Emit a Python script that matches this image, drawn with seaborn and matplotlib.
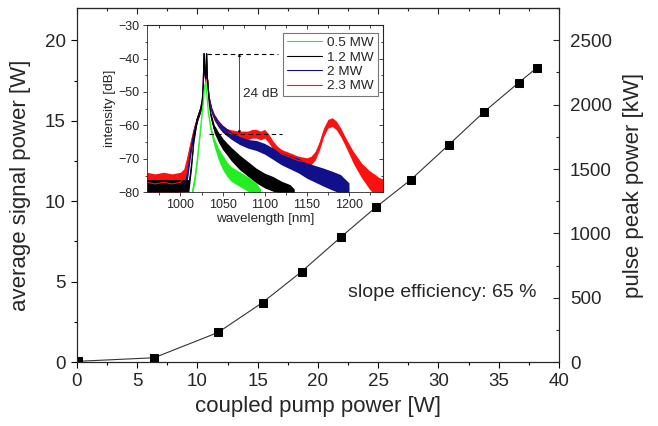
import matplotlib

matplotlib.use("Agg")
import matplotlib.pyplot as plt
import numpy as np
import seaborn as sns
from matplotlib.ticker import MultipleLocator, NullFormatter

# main curve: coupled pump power [W] vs average signal power [W]
pump_w = [0.1, 6.4, 11.7, 15.4, 18.65, 21.95, 24.8, 27.7, 30.85, 33.8, 36.65, 38.15]
signal_w = [0.05, 0.27, 1.84, 3.7, 5.63, 7.8, 9.62, 11.33, 13.5, 15.56, 17.36, 18.28]
kw_per_w = 125  # right axis scale (pulse peak power)

# inset spectra: wavelength [nm], intensity [dB], half width of the noise band [dB]
red_wl = [960, 970, 980, 990, 1000, 1004, 1008, 1012, 1016, 1020, 1024, 1026, 1027, 1028,
          1029, 1030, 1031, 1032, 1034, 1037, 1040, 1045, 1050, 1055, 1060, 1070, 1080,
          1085, 1090, 1095, 1100, 1105, 1110, 1115, 1120, 1130, 1140, 1150, 1155, 1160,
          1165, 1170, 1175, 1180, 1185, 1190, 1195, 1200, 1205, 1210, 1215, 1220, 1225,
          1230, 1235, 1240]
red_db = [-77, -77.5, -77, -77.5, -77, -75.5, -71, -66, -61.5, -58, -55, -52, -48, -38.5,
          -45, -47, -38.5, -46, -52, -55.5, -57.5, -59.5, -61, -62, -62.5, -63, -63,
          -62.5, -62.5, -63, -62.5, -64, -66, -67.5, -68.5, -69.5, -70.5, -71, -70.5, -69,
          -66, -62, -59.5, -59, -60, -62, -64.5, -67, -69.5, -71.5, -73.5, -75, -76.5,
          -77.5, -78.5, -79]
red_sp = [3, 3, 3, 3, 3, 2.5, 2, 1.5, 1.2, 1, 1, 0.8, 0.5, 0.3,
          0.5, 0.5, 0.3, 0.5, 0.8, 1, 1, 1, 1.1, 1.1, 1.2, 1.3, 1.3,
          1.3, 1.3, 1.3, 1.3, 1.3, 1.3, 1.3, 1.3, 1.3, 1.3, 1.3, 1.3, 1.3,
          1.3, 1.3, 1.3, 1.3, 1.3, 1.3, 1.3, 1.5, 1.8, 2, 2.2, 2.5, 2.8,
          3, 3, 3]

blue_wl = [960, 970, 980, 990, 1000, 1005, 1008, 1012, 1016, 1020, 1024, 1026, 1027, 1028,
           1029, 1030, 1031, 1032, 1034, 1037, 1040, 1045, 1050, 1060, 1070, 1080, 1090,
           1100, 1110, 1120, 1130, 1140, 1150, 1160, 1170, 1180, 1190, 1200]
blue_db = [-78, -78, -78, -78, -78, -78, -75, -68, -62, -58, -55, -52, -48, -38.5,
           -45, -46, -38.5, -46, -52, -55.5, -57.5, -59.5, -61, -63, -64.5, -65.5, -66,
           -67, -68.5, -70, -71, -72, -73.5, -74.5, -75.5, -76.5, -77.5, -79]
blue_sp = [1.8, 1.8, 1.8, 1.8, 1.8, 1.8, 1.8, 1.3, 1, 0.8, 0.8, 0.7, 0.5, 0.3,
           0.5, 0.5, 0.3, 0.5, 0.7, 0.8, 0.8, 0.9, 1, 1.1, 1.2, 1.3, 1.5,
           1.6, 1.7, 1.8, 2, 2.2, 2.3, 2.5, 2.7, 2.8, 2.8, 1.8]

black_wl = [960, 970, 980, 990, 1000, 1005, 1010, 1013, 1016, 1020, 1024, 1026, 1027, 1028,
            1029, 1030, 1031, 1032, 1034, 1036, 1040, 1045, 1050, 1055, 1060, 1070, 1080,
            1090, 1100, 1110, 1120, 1130, 1135]
black_db = [-78, -78, -78, -78, -78, -78, -78, -72, -64, -58, -55, -53, -48, -38.5,
            -44, -46, -38.5, -46, -53, -57, -61, -63.5, -65.5, -67, -68.5, -71, -73,
            -75, -76.5, -77.5, -78.5, -79, -80]
black_sp = [1.8, 1.8, 1.8, 1.8, 1.8, 1.8, 1.8, 1.3, 1, 0.8, 0.8, 0.7, 0.5, 0.3,
            0.5, 0.5, 0.3, 0.5, 0.8, 1, 1.2, 1.5, 1.7, 1.8, 2, 2.2, 2.2,
            2.2, 2.2, 2.2, 1.8, 1.3, 1]

green_wl = [1014, 1017, 1020, 1023, 1025, 1027, 1028, 1029, 1030, 1031, 1033, 1036, 1040,
            1045, 1050, 1055, 1060, 1070, 1080, 1090, 1095]
green_db = [-80, -76, -70, -63, -58, -53, -50, -48, -47, -50, -56, -61, -65,
            -68.5, -71, -73, -74.5, -76, -77.5, -79, -80]
green_sp = [1, 1.3, 1.3, 1, 0.8, 0.7, 0.5, 0.5, 0.5, 0.5, 0.7, 0.9, 1.3,
            1.8, 2.2, 2.2, 2.2, 2.2, 2.2, 1.8, 1]

# 24 dB marker
ref_top_db = -38.5
ref_bottom_db = -62.5
ref_top_wl = [1031, 1116]
ref_bottom_wl = [1034, 1121]
ref_arrow_wl = 1070

sns.set_theme(style="ticks")
plt.rcParams["font.family"] = ["Liberation Sans", "DejaVu Sans"]
plt.rcParams["axes.linewidth"] = 0.8

fig = plt.figure(figsize=(6.58, 4.26), dpi=100)
ax = fig.add_axes([0.117, 0.150, 0.7325, 0.831])

sns.lineplot(x=pump_w, y=signal_w, ax=ax, color="#333333", lw=0.8, marker="s",
             markersize=6, markerfacecolor="black", markeredgecolor="black", zorder=3)
ax.set_xlim(0, 40)
ax.set_ylim(0, 22)
ax.xaxis.set_major_locator(MultipleLocator(5))
ax.xaxis.set_minor_locator(MultipleLocator(2.5))
ax.yaxis.set_major_locator(MultipleLocator(5))
ax.yaxis.set_minor_locator(MultipleLocator(2.5))
ax.tick_params(which="both", direction="out", labelsize=13.5, color="black", width=0.8)
ax.tick_params(which="major", length=4.5)
ax.tick_params(which="minor", length=2.5)
ax.set_xlabel("coupled pump power [W]", fontsize=16, labelpad=4)
ax.set_ylabel("average signal power [W]", fontsize=16, labelpad=10)
ax.text(22.5, 4.35, "slope efficiency: 65 %", fontsize=14, va="center")

top = ax.secondary_xaxis("top")
top.xaxis.set_major_locator(MultipleLocator(5))
top.xaxis.set_minor_locator(MultipleLocator(2.5))
top.xaxis.set_major_formatter(NullFormatter())
top.tick_params(which="both", direction="in", width=0.8)
top.tick_params(which="major", length=4.5)
top.tick_params(which="minor", length=2.5)

ax2 = ax.twinx()
ax2.set_ylim(0, 22 * kw_per_w)
ax2.yaxis.set_major_locator(MultipleLocator(500))
ax2.yaxis.set_minor_locator(MultipleLocator(250))
ax2.tick_params(which="both", direction="in", labelsize=13.5, width=0.8, pad=8)
ax2.tick_params(which="major", length=4.5)
ax2.tick_params(which="minor", length=2.5)
ax2.set_ylabel("pulse peak power [kW]", fontsize=16, labelpad=8)

# inset with the spectra
ax_in = fig.add_axes([0.223, 0.5486, 0.3586, 0.3925])
series = [
    (red_wl, red_db, red_sp, "#ff1010", "2.3 MW"),
    (blue_wl, blue_db, blue_sp, "#10108a", "2 MW"),
    (black_wl, black_db, black_sp, "black", "1.2 MW"),
    (green_wl, green_db, green_sp, "#22ee22", "0.5 MW"),
]
for wl, db, sp, c, lab in series:
    db = np.array(db)
    sp = np.array(sp)
    ax_in.fill_between(wl, db - sp, db + sp, color=c, lw=0)
    sns.lineplot(x=wl, y=db, ax=ax_in, color=c, lw=0.8, label=lab)

ax_in.plot(ref_top_wl, [ref_top_db] * 2, color="black", ls=(0, (4, 3)), lw=0.8)
ax_in.plot(ref_bottom_wl, [ref_bottom_db] * 2, color="black", ls=(0, (4, 3)), lw=0.8)
ax_in.annotate("", xy=(ref_arrow_wl, ref_bottom_db), xytext=(ref_arrow_wl, ref_top_db),
               arrowprops=dict(arrowstyle="<|-|>", lw=0.5, color="black",
                               shrinkA=0, shrinkB=0, mutation_scale=4))
ax_in.text(ref_arrow_wl + 4, (ref_top_db + ref_bottom_db) / 2, "24 dB", fontsize=9.7,
           va="center")

ax_in.set_xlim(960, 1240)
ax_in.set_ylim(-80, -30)
ax_in.xaxis.set_major_locator(MultipleLocator(50))
ax_in.xaxis.set_minor_locator(MultipleLocator(25))
ax_in.yaxis.set_major_locator(MultipleLocator(10))
ax_in.yaxis.set_minor_locator(MultipleLocator(5))
ax_in.tick_params(which="both", direction="out", labelsize=9, width=0.6, pad=2)
ax_in.tick_params(which="major", length=3)
ax_in.tick_params(which="minor", length=1.8)
ax_in.set_xlabel("wavelength [nm]", fontsize=9.7, labelpad=1)
ax_in.set_ylabel("intensity [dB]", fontsize=9.7, labelpad=2)
for s in ax_in.spines.values():
    s.set_linewidth(0.6)

in_top = ax_in.secondary_xaxis("top")
in_top.xaxis.set_major_locator(MultipleLocator(50))
in_top.xaxis.set_minor_locator(MultipleLocator(25))
in_top.xaxis.set_major_formatter(NullFormatter())
in_top.tick_params(which="both", direction="in", width=0.6)
in_top.tick_params(which="major", length=3)
in_top.tick_params(which="minor", length=1.8)
in_right = ax_in.secondary_yaxis("right")
in_right.yaxis.set_major_locator(MultipleLocator(10))
in_right.yaxis.set_minor_locator(MultipleLocator(5))
in_right.yaxis.set_major_formatter(NullFormatter())
in_right.tick_params(which="both", direction="in", width=0.6)
in_right.tick_params(which="major", length=3)
in_right.tick_params(which="minor", length=1.8)

handles, labels = ax_in.get_legend_handles_labels()
leg = ax_in.legend(handles[::-1], labels[::-1], loc="upper right",
                   bbox_to_anchor=(0.98, 0.955), fontsize=9.7,
                   frameon=True, fancybox=False, framealpha=1, edgecolor="#777777",
                   borderaxespad=0, labelspacing=0.15, handlelength=2.6,
                   handletextpad=0.4, borderpad=0.3)
leg.get_frame().set_linewidth(0.8)

fig.savefig("out.png", dpi=100)
